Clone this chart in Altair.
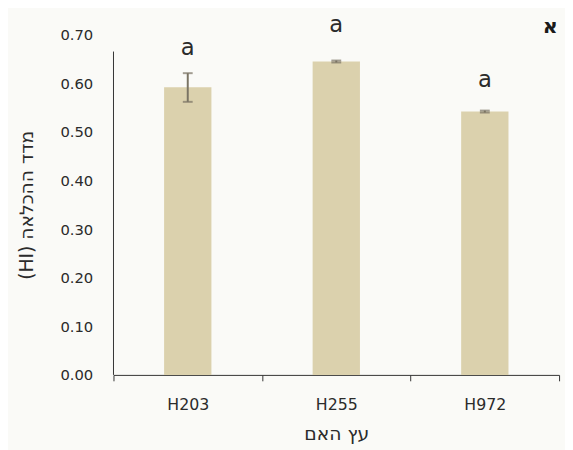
import altair as alt
import pandas as pd

trees = ["H203", "H255", "H972"]
hi_mean = [0.592, 0.645, 0.542]
hi_low = [0.562, 0.643, 0.540]
hi_high = [0.621, 0.647, 0.544]
letters = ["a", "a", "a"]
letter_y = [0.659, 0.706, 0.592]
panel_label = ["א"]

df = pd.DataFrame({
    "tree": trees,
    "mean": hi_mean,
    "low": hi_low,
    "high": hi_high,
    "letter": letters,
    "ly": letter_y,
})

FONT = "DejaVu Sans"
BAR = "#dbd1ad"
ERR = "#7a7464"
TXT = "#2b2b2b"

x = alt.X(
    "tree:N",
    sort=trees,
    title="עץ האם",
    scale=alt.Scale(paddingInner=0, paddingOuter=0),
    axis=alt.Axis(
        labelAngle=0, tickBand="extent", tickSize=6, tickColor="#333333",
        domainColor="#333333", labelFontSize=16, labelColor=TXT,
        labelPadding=16, titleFontSize=19, titleFontWeight="normal",
        titleColor=TXT, titlePadding=13, labelFont=FONT, titleFont=FONT,
    ),
)
yscale = alt.Scale(domain=[0, 0.7], nice=False)

base = alt.Chart(df)

bars = base.mark_bar(color=BAR, size=48).encode(
    x=x,
    y=alt.Y(
        "mean:Q",
        scale=yscale,
        title="(HI) מדד ההכלאה",
        axis=alt.Axis(
            values=[0, 0.1, 0.2, 0.3, 0.4, 0.5, 0.6, 0.7], format=".2f",
            grid=False, domain=False, ticks=False, labelPadding=21,
            labelFontSize=15, labelColor=TXT, labelFont=FONT,
            titleFontSize=19, titleFontWeight="normal", titleColor=TXT,
            titlePadding=24, titleFont=FONT,
        ),
    ),
)

err = base.mark_rule(color=ERR, strokeWidth=2).encode(
    x=alt.X("tree:N", sort=trees), y=alt.Y("low:Q", scale=yscale), y2="high:Q"
)
cap_lo = base.mark_tick(color=ERR, thickness=2, size=10).encode(
    x=alt.X("tree:N", sort=trees), y=alt.Y("low:Q", scale=yscale)
)
cap_hi = base.mark_tick(color=ERR, thickness=2, size=10).encode(
    x=alt.X("tree:N", sort=trees), y=alt.Y("high:Q", scale=yscale)
)
labels = base.mark_text(fontSize=23, font=FONT, color=TXT, baseline="alphabetic").encode(
    x=alt.X("tree:N", sort=trees), y=alt.Y("ly:Q", scale=yscale), text="letter:N"
)
yline = alt.Chart(pd.DataFrame({"v": [0]})).mark_rule(color="#333333", strokeWidth=1).encode(
    x=alt.value(0), y=alt.value(345), y2=alt.value(17)
)
panel = alt.Chart(pd.DataFrame({"t": panel_label})).mark_text(
    fontSize=21, fontWeight="bold", font=FONT, color="#1a1a1a",
    baseline="alphabetic", align="center",
).encode(x=alt.value(443), y=alt.value(-2), text="t:N")

chart = alt.layer(bars, err, cap_lo, cap_hi, labels, yline, panel).properties(
    width=452,
    height=345,
    autosize=alt.AutoSizeParams(type="none"),
    padding={"left": 107, "top": 24, "right": 6, "bottom": 73},
    background="#fafaf7",
).configure_view(stroke=None)

chart.save("out.html", embed_options={"renderer": "svg", "actions": False})
